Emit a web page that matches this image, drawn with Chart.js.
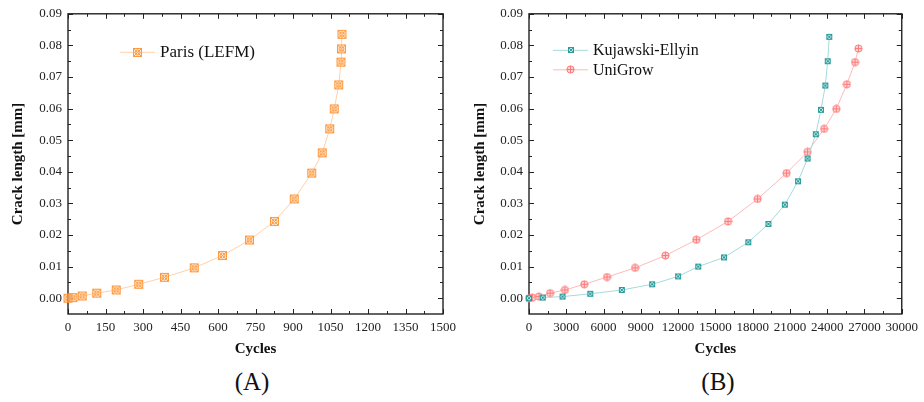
<!DOCTYPE html>
<html>
<head>
<meta charset="utf-8">
<script src="https://cdn.jsdelivr.net/npm/chart.js@4.4.0/dist/chart.umd.min.js"></script>
<style>
  html, body { margin: 0; padding: 0; background: #fff; }
  body { width: 924px; height: 402px; position: relative; overflow: hidden; font-family: "Liberation Serif", serif; }
  .panel { position: absolute; top: 0; width: 462px; height: 358px; }
  .tag { position: absolute; top: 368px; width: 80px; font-size: 25px; line-height: 28px; text-align: center; color: #111; }
</style>
</head>
<body>
<div class="panel" style="left:0"><canvas id="chartA" width="462" height="358"></canvas></div>
<div class="panel" style="left:462px"><canvas id="chartB" width="462" height="358"></canvas></div>
<div class="tag" style="left:212px">(A)</div>
<div class="tag" style="left:678px">(B)</div>

<script>
// values
const parisCycles = [0, 20, 57, 115, 193, 283, 386, 505, 618, 726, 826, 905, 975, 1017, 1047, 1065, 1083, 1092, 1094, 1096];
const parisCrack = [0, 0.0002, 0.0007, 0.0016, 0.0026, 0.0044, 0.0066, 0.0096, 0.0135, 0.0184, 0.0243, 0.0314, 0.0396, 0.0460, 0.0536, 0.0599, 0.0675, 0.0747, 0.0789, 0.0835];

const kujawskiCycles = [0, 1110, 2700, 4930, 7470, 9910, 12000, 13620, 15690, 17650, 19270, 20590, 21650, 22420, 23080, 23500, 23850, 24040, 24170];
const kujawskiCrack = [0, 0.0002, 0.0005, 0.0014, 0.0026, 0.0044, 0.0069, 0.0100, 0.0129, 0.0177, 0.0235, 0.0296, 0.0370, 0.0442, 0.0519, 0.0596, 0.0673, 0.0750, 0.0827];

const unigrowCycles = [0, 270, 800, 1700, 2890, 4450, 6280, 8540, 10980, 13470, 16020, 18400, 20730, 22420, 23750, 24730, 25580, 26240, 26510];
const unigrowCrack = [0, 0.0002, 0.0005, 0.0016, 0.0026, 0.0044, 0.0067, 0.0096, 0.0135, 0.0185, 0.0243, 0.0314, 0.0396, 0.0463, 0.0536, 0.0599, 0.0677, 0.0747, 0.0790];

const yTicks = [0, 0.01, 0.02, 0.03, 0.04, 0.05, 0.06, 0.07, 0.08, 0.09];
const xTicksA = [0, 150, 300, 450, 600, 750, 900, 1050, 1200, 1350, 1500];
const xTicksB = [0, 3000, 6000, 9000, 12000, 15000, 18000, 21000, 24000, 27000, 30000];

const SERIF = "'Liberation Serif', 'Times New Roman', serif";

function toPoints(xs, ys) {
  return xs.map((x, i) => ({ x: x, y: ys[i] }));
}

// little canvases used as point styles (Origin-like symbols)
function markerParis() {
  const c = document.createElement('canvas');
  c.width = 11; c.height = 11;
  const g = c.getContext('2d');
  g.fillStyle = 'rgba(255,200,150,0.3)';
  g.fillRect(1, 1, 9, 9);
  g.strokeStyle = '#FF9A40';
  g.lineWidth = 1;
  g.strokeRect(1.5, 1.5, 8, 8);
  g.beginPath();
  g.moveTo(2, 2); g.lineTo(9, 9);
  g.moveTo(9, 2); g.lineTo(2, 9);
  g.stroke();
  g.beginPath();
  g.arc(5.5, 5.5, 2.5, 0, Math.PI * 2);
  g.stroke();
  return c;
}

function markerKujawski() {
  const c = document.createElement('canvas');
  c.width = 8; c.height = 8;
  const g = c.getContext('2d');
  g.fillStyle = '#C4E8E8';
  g.fillRect(1, 1, 6, 6);
  g.strokeStyle = '#2F9C9C';
  g.lineWidth = 1;
  g.strokeRect(1.5, 1.5, 5, 5);
  g.beginPath();
  g.moveTo(1.5, 1.5); g.lineTo(6.5, 6.5);
  g.moveTo(6.5, 1.5); g.lineTo(1.5, 6.5);
  g.stroke();
  return c;
}

function markerUnigrow() {
  const c = document.createElement('canvas');
  c.width = 9; c.height = 9;
  const g = c.getContext('2d');
  g.fillStyle = '#FFD6D6';
  g.strokeStyle = '#FF7878';
  g.lineWidth = 1;
  g.beginPath();
  g.arc(4.5, 4.5, 3.6, 0, Math.PI * 2);
  g.fill();
  g.stroke();
  g.beginPath();
  g.moveTo(4.5, 1); g.lineTo(4.5, 8);
  g.moveTo(1, 4.5); g.lineTo(8, 4.5);
  g.stroke();
  return c;
}

// box frame with inward ticks on all four sides
const frameTicks = {
  id: 'frameTicks',
  beforeDatasetsDraw(chart, args, opts) {
    const { ctx, chartArea: a, scales } = chart;
    const x = scales.x, y = scales.y;
    ctx.save();
    ctx.strokeStyle = '#222';
    ctx.lineWidth = 1.4;
    ctx.strokeRect(a.left, a.top, a.right - a.left, a.bottom - a.top);
    ctx.lineWidth = 1;
    ctx.beginPath();
    const xt = opts.xTicks;
    for (let i = 0; i < xt.length; i++) {
      const px = Math.round(x.getPixelForValue(xt[i])) + 0.5;
      ctx.moveTo(px, a.bottom); ctx.lineTo(px, a.bottom - 5);
      ctx.moveTo(px, a.top); ctx.lineTo(px, a.top + 5);
      if (i < xt.length - 1) {
        const mx = Math.round(x.getPixelForValue((xt[i] + xt[i + 1]) / 2)) + 0.5;
        ctx.moveTo(mx, a.bottom); ctx.lineTo(mx, a.bottom - 3);
        ctx.moveTo(mx, a.top); ctx.lineTo(mx, a.top + 3);
      }
    }
    const yt = opts.yTicks;
    for (let i = 0; i < yt.length; i++) {
      const py = Math.round(y.getPixelForValue(yt[i])) + 0.5;
      ctx.moveTo(a.left, py); ctx.lineTo(a.left + 5, py);
      ctx.moveTo(a.right, py); ctx.lineTo(a.right - 5, py);
    }
    for (let v = -0.005; v < 0.09; v += 0.01) {
      const py = Math.round(y.getPixelForValue(v)) + 0.5;
      if (py <= a.top + 1 || py >= a.bottom - 1) continue;
      ctx.moveTo(a.left, py); ctx.lineTo(a.left + 3, py);
      ctx.moveTo(a.right, py); ctx.lineTo(a.right - 3, py);
    }
    ctx.stroke();
    ctx.restore();
  }
};

// Origin-style legend inside the plot: line, symbol, label
const boxLegend = {
  id: 'boxLegend',
  afterDraw(chart, args, opts) {
    const ctx = chart.ctx;
    const a = chart.chartArea;
    ctx.save();
    ctx.font = opts.size + 'px ' + SERIF;
    ctx.textBaseline = 'middle';
    ctx.fillStyle = '#111';
    chart.data.datasets.forEach((ds, i) => {
      const x0 = a.left + opts.left;
      const yy = a.top + opts.top + i * opts.rowGap;
      ctx.strokeStyle = ds.borderColor;
      ctx.lineWidth = 1;
      ctx.beginPath();
      ctx.moveTo(x0, yy + 0.5);
      ctx.lineTo(x0 + opts.lineLen, yy + 0.5);
      ctx.stroke();
      const m = ds.pointStyle;
      ctx.drawImage(m, Math.round(x0 + opts.lineLen / 2 - m.width / 2), Math.round(yy - m.height / 2 + 0.5));
      ctx.fillText(ds.label, x0 + opts.lineLen + 5, yy + 1);
    });
    ctx.restore();
  }
};

function buildChart(id, datasets, xMax, xTicks, yWidth, legendOpts) {
  return new Chart(document.getElementById(id), {
    type: 'line',
    data: { datasets: datasets },
    options: {
      responsive: false,
      animation: false,
      events: [],
      layout: { padding: { left: 0, top: 11, right: 17, bottom: 0 } },
      plugins: {
        legend: { display: false },
        tooltip: { enabled: false },
        frameTicks: { xTicks: xTicks, yTicks: yTicks },
        boxLegend: legendOpts
      },
      scales: {
        x: {
          type: 'linear',
          min: 0,
          max: xMax,
          afterBuildTicks: s => { s.ticks = xTicks.map(v => ({ value: v })); },
          afterFit: s => { s.height = 44; },
          grid: { display: false, drawTicks: false },
          border: { display: false },
          ticks: {
            padding: 6,
            color: '#222',
            font: { family: SERIF, size: 13 },
            maxRotation: 0,
            autoSkip: false,
            callback: v => String(v)
          },
          title: {
            display: true,
            text: 'Cycles',
            color: '#111',
            font: { family: SERIF, size: 15, weight: 'bold' },
            padding: { top: 0, bottom: 0 }
          }
        },
        y: {
          type: 'linear',
          min: -0.005,
          max: 0.09,
          afterBuildTicks: s => { s.ticks = yTicks.map(v => ({ value: v })); },
          afterFit: s => { s.width = yWidth; },
          grid: { display: false, drawTicks: false },
          border: { display: false },
          ticks: {
            padding: 6,
            color: '#222',
            font: { family: SERIF, size: 13 },
            autoSkip: false,
            callback: v => v.toFixed(2)
          },
          title: {
            display: true,
            text: 'Crack length [mm]',
            color: '#111',
            font: { family: SERIF, size: 15, weight: 'bold' },
            padding: { top: 9, bottom: 0 }
          }
        }
      }
    },
    plugins: [frameTicks, boxLegend]
  });
}

buildChart('chartA', [
  {
    label: 'Paris (LEFM)',
    data: toPoints(parisCycles, parisCrack),
    borderColor: '#FFD1AA',
    borderWidth: 1,
    pointStyle: markerParis(),
    pointRadius: 5,
    tension: 0,
    clip: false
  }
], 1500, xTicksA, 68, { left: 52, top: 38, rowGap: 20, lineLen: 35, size: 17 });

buildChart('chartB', [
  {
    label: 'Kujawski-Ellyin',
    data: toPoints(kujawskiCycles, kujawskiCrack),
    borderColor: '#A6DADA',
    borderWidth: 1,
    pointStyle: markerKujawski(),
    pointRadius: 4,
    tension: 0,
    clip: false
  },
  {
    label: 'UniGrow',
    data: toPoints(unigrowCycles, unigrowCrack),
    borderColor: '#FFBABA',
    borderWidth: 1,
    pointStyle: markerUnigrow(),
    pointRadius: 4,
    tension: 0,
    clip: false
  }
], 30000, xTicksB, 67, { left: 24, top: 36, rowGap: 19.5, lineLen: 35, size: 16 });
</script>
</body>
</html>
